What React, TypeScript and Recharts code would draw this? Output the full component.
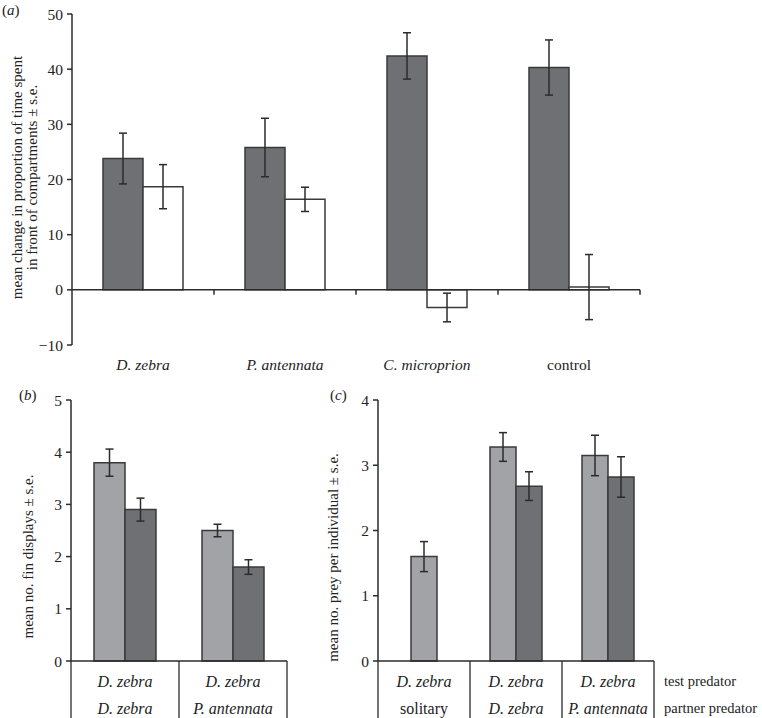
import React from 'react';
import { BarChart, Bar, XAxis, YAxis, ErrorBar, ReferenceLine, Label } from 'recharts';

const FONT = '"Liberation Serif", "DejaVu Serif", serif';
const DARK = '#6f7074';
const LIGHT = '#a2a3a7';
const EDGE = '#3a3a3a';
const INK = '#2b2b2b';
const TEXT = '#222222';

// panel (a)
const predatorsA = ['D. zebra', 'P. antennata', 'C. microprion', 'control'];
const filledA = [23.8, 25.8, 42.4, 40.3];
const filledSeA = [4.6, 5.3, 4.2, 5.0];
const openA = [18.7, 16.4, -3.2, 0.5];
const openSeA = [4.0, 2.2, 2.6, 5.9];
const ticksA = [-10, 0, 10, 20, 30, 40, 50];

// panel (b)
const testB = ['D. zebra', 'D. zebra'];
const partnerB = ['D. zebra', 'P. antennata'];
const lightB = [3.8, 2.5];
const lightSeB = [0.26, 0.12];
const darkB = [2.9, 1.8];
const darkSeB = [0.22, 0.14];
const ticksB = [0, 1, 2, 3, 4, 5];

// panel (c)
const testC = ['D. zebra', 'D. zebra', 'D. zebra'];
const partnerC = ['solitary', 'D. zebra', 'P. antennata'];
const soloC = [1.6, null, null];
const soloSeC = [0.23, null, null];
const lightC = [null, 3.28, 3.15];
const lightSeC = [null, 0.22, 0.31];
const darkC = [null, 2.68, 2.82];
const darkSeC = [null, 0.22, 0.31];
const ticksC = [0, 1, 2, 3, 4];

const rowNames = ['test predator', 'partner predator'];
const plainLabels = ['control', 'solitary'];

const dataA = predatorsA.map((name, i) => ({
  name,
  filled: filledA[i],
  filledSe: filledSeA[i],
  open: openA[i],
  openSe: openSeA[i],
}));

const dataB = partnerB.map((partner, i) => ({
  partner,
  light: lightB[i],
  lightSe: lightSeB[i],
  dark: darkB[i],
  darkSe: darkSeB[i],
}));

const dataC = partnerC.map((partner, i) => ({
  partner,
  solo: soloC[i],
  soloSe: soloSeC[i],
  light: lightC[i],
  lightSe: lightSeC[i],
  dark: darkC[i],
  darkSe: darkSeC[i],
}));

const fmtMinus = (v: number) => (v < 0 ? `\u2212${Math.abs(v)}` : `${v}`);

const CategoryTickA = (props: any) => {
  const { x, y, payload } = props;
  const plain = plainLabels.includes(payload.value);
  return (
    <text
      x={x}
      y={y + 19}
      textAnchor="middle"
      dominantBaseline="central"
      fontSize={15.5}
      fontFamily={FONT}
      fill={TEXT}
      fontStyle={plain ? 'normal' : 'italic'}
    >
      {payload.value}
    </text>
  );
};

// two-row table under the bars, with the row names after the last column
const makeTableTick = (tests: string[], partners: string[], withRowNames: boolean) => (props: any) => {
  const { x, y, index } = props;
  const half = props.payload?.offset ?? 0;
  const last = index === partners.length - 1;
  const cell = (t: string, dy: number, ax: number, anchor: string, size: number, plain?: boolean) => (
    <text
      x={ax}
      y={y + dy}
      textAnchor={anchor}
      dominantBaseline="central"
      fontSize={size}
      fontFamily={FONT}
      fill={TEXT}
      fontStyle={plain || plainLabels.includes(t) ? 'normal' : 'italic'}
    >
      {t}
    </text>
  );
  return (
    <g>
      {index === 0 && (
        <line x1={x - half} x2={x - half} y1={y} y2={y + 60} stroke={INK} strokeWidth={1.3} />
      )}
      <line x1={x + half} x2={x + half} y1={y} y2={y + 60} stroke={INK} strokeWidth={1.3} />
      {cell(tests[index], 20, x, 'middle', 16)}
      {cell(partners[index], 47, x, 'middle', 16)}
      {last && withRowNames && (
        <g>
          {cell(rowNames[0], 20, x + half + 10, 'start', 14.5, true)}
          {cell(rowNames[1], 47, x + half + 10, 'start', 14.5, true)}
        </g>
      )}
    </g>
  );
};

const axisTitle = (lines: string[], offsets: number[], shiftY: number) => (props: any) => {
  const vb = props.viewBox;
  const cy = vb.y + vb.height / 2 + shiftY;
  return (
    <g>
      {lines.map((t, i) => {
        const cx = vb.x + offsets[i];
        return (
          <text
            key={i}
            x={cx}
            y={cy}
            transform={`rotate(-90 ${cx} ${cy})`}
            textAnchor="middle"
            dominantBaseline="central"
            fontSize={15}
            fontFamily={FONT}
            fill={TEXT}
          >
            {t}
          </text>
        );
      })}
    </g>
  );
};

// zero line of panel (a) with small ticks at the category boundaries
const ZeroLine = (props: any) => {
  const { x1, x2, y1 } = props;
  const n = predatorsA.length;
  const step = (x2 - x1) / n;
  return (
    <g>
      <line x1={x1} x2={x2} y1={y1} y2={y1} stroke={INK} strokeWidth={1.5} />
      {predatorsA.map((_, i) => (
        <line key={i} x1={x1 + step * (i + 1)} x2={x1 + step * (i + 1)} y1={y1} y2={y1 + 5} stroke={INK} strokeWidth={1.5} />
      ))}
    </g>
  );
};

const yTick = { fontSize: 15.5, fontFamily: FONT, fill: TEXT };
const err = { stroke: INK, strokeWidth: 1.5, width: 4 };

const PanelLetter = ({ letter, left, top }: { letter: string; left: number; top: number }) => (
  <div style={{ position: 'absolute', left, top, fontFamily: FONT, fontSize: 15, color: TEXT, lineHeight: 1 }}>
    (<i>{letter}</i>)
  </div>
);

export default function App() {
  return (
    <div style={{ position: 'absolute', left: 0, top: 0, width: 762, height: 718, background: '#fff', overflow: 'hidden' }}>
      <div style={{ position: 'absolute', left: 0, top: 0 }}>
        <BarChart width={762} height={380} data={dataA} barGap={0} margin={{ top: 14, right: 122, bottom: 0, left: 0 }}>
          <XAxis dataKey="name" axisLine={false} tickLine={false} tickSize={0} tickMargin={0} height={35} interval={0} tick={<CategoryTickA />} />
          <YAxis
            width={72}
            domain={[-10, 50]}
            ticks={ticksA}
            interval={0}
            tickFormatter={fmtMinus}
            tick={yTick}
            tickSize={5}
            tickMargin={4}
            axisLine={{ stroke: INK, strokeWidth: 1.5 }}
            tickLine={{ stroke: INK, strokeWidth: 1.5 }}
          >
            <Label
              content={axisTitle(
                ['mean change in proportion of time spent', 'in front of compartments \u00b1 s.e.'],
                [17, 32],
                -2
              )}
            />
          </YAxis>
          <Bar dataKey="filled" fill={DARK} stroke={EDGE} strokeWidth={1.5} barSize={40} isAnimationActive={false}>
            <ErrorBar dataKey="filledSe" direction="y" {...err} />
          </Bar>
          <Bar dataKey="open" fill="#ffffff" stroke={EDGE} strokeWidth={1.5} barSize={40} isAnimationActive={false}>
            <ErrorBar dataKey="openSe" direction="y" {...err} />
          </Bar>
          <ReferenceLine y={0} stroke={INK} shape={<ZeroLine />} />
        </BarChart>
      </div>

      <div style={{ position: 'absolute', left: 0, top: 380 }}>
        <BarChart width={380} height={338} data={dataB} barGap={0} margin={{ top: 20, right: 93, bottom: 0, left: 0 }}>
          <XAxis
            dataKey="partner"
            height={57}
            interval={0}
            tickSize={0}
            tickMargin={0}
            tickLine={false}
            axisLine={{ stroke: INK, strokeWidth: 1.5 }}
            tick={makeTableTick(testB, partnerB, false)}
          />
          <YAxis
            width={71}
            domain={[0, 5]}
            ticks={ticksB}
            interval={0}
            tick={yTick}
            tickSize={5}
            tickMargin={4}
            axisLine={{ stroke: INK, strokeWidth: 1.5 }}
            tickLine={{ stroke: INK, strokeWidth: 1.5 }}
          >
            <Label content={axisTitle(['mean no. fin displays \u00b1 s.e.'], [28], 26)} />
          </YAxis>
          <Bar dataKey="light" fill={LIGHT} stroke={EDGE} strokeWidth={1.5} barSize={31} isAnimationActive={false}>
            <ErrorBar dataKey="lightSe" direction="y" {...err} />
          </Bar>
          <Bar dataKey="dark" fill={DARK} stroke={EDGE} strokeWidth={1.5} barSize={31} isAnimationActive={false}>
            <ErrorBar dataKey="darkSe" direction="y" {...err} />
          </Bar>
        </BarChart>
      </div>

      <div style={{ position: 'absolute', left: 300, top: 380 }}>
        <BarChart width={462} height={338} data={dataC} barGap={0} margin={{ top: 20, right: 108, bottom: 0, left: 0 }}>
          <XAxis
            dataKey="partner"
            height={57}
            interval={0}
            tickSize={0}
            tickMargin={0}
            tickLine={false}
            axisLine={{ stroke: INK, strokeWidth: 1.5 }}
            tick={makeTableTick(testC, partnerC, true)}
          />
          <XAxis xAxisId="solo" dataKey="partner" hide />
          <YAxis
            width={78}
            domain={[0, 4]}
            ticks={ticksC}
            interval={0}
            tick={yTick}
            tickSize={5}
            tickMargin={4}
            axisLine={{ stroke: INK, strokeWidth: 1.5 }}
            tickLine={{ stroke: INK, strokeWidth: 1.5 }}
          >
            <Label content={axisTitle(['mean no. prey per individual \u00b1 s.e.'], [33], 27)} />
          </YAxis>
          <Bar xAxisId="solo" dataKey="solo" fill={LIGHT} stroke={EDGE} strokeWidth={1.5} barSize={26} isAnimationActive={false}>
            <ErrorBar dataKey="soloSe" direction="y" {...err} />
          </Bar>
          <Bar dataKey="light" fill={LIGHT} stroke={EDGE} strokeWidth={1.5} barSize={26} isAnimationActive={false}>
            <ErrorBar dataKey="lightSe" direction="y" {...err} />
          </Bar>
          <Bar dataKey="dark" fill={DARK} stroke={EDGE} strokeWidth={1.5} barSize={26} isAnimationActive={false}>
            <ErrorBar dataKey="darkSe" direction="y" {...err} />
          </Bar>
        </BarChart>
      </div>

      <PanelLetter letter="a" left={2} top={3} />
      <PanelLetter letter="b" left={19} top={388} />
      <PanelLetter letter="c" left={330} top={388} />
    </div>
  );
}
